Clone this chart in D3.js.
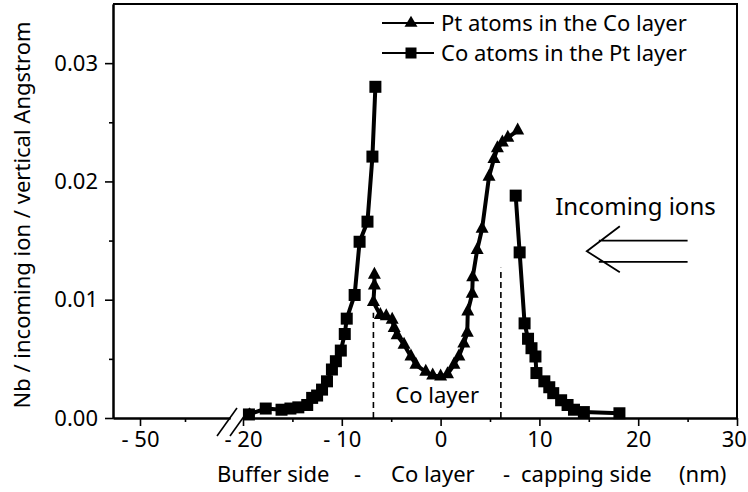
<!DOCTYPE html>
<html><head><meta charset="utf-8">
<script src="https://cdn.jsdelivr.net/npm/d3@7"></script>
<style>
body{margin:0;background:#fff}
svg{display:block}
text{font-family:"Noto Sans",sans-serif;fill:#000}
</style>
</head><body>
<svg id="chart" width="748" height="492"></svg>
<script>
// ---- data ----
const ptInCoX = [-6.7, -6.7, -6.8, -6.1, -5.5, -4.9, -4.7, -4.4, -3.7, -3.0, -2.5, -1.5, -0.8, 0.0, 0.7, 1.35, 1.85, 2.35, 2.7, 2.75, 3.2, 3.25, 3.7, 4.2, 4.9, 5.4, 5.75, 6.25, 6.8, 7.8];
const ptInCoY = [0.0121, 0.0112, 0.0098, 0.0087, 0.0086, 0.0083, 0.0076, 0.0070, 0.0062, 0.0052, 0.0045, 0.0039, 0.0036, 0.0035, 0.0037, 0.0045, 0.0052, 0.0063, 0.0072, 0.0090, 0.0105, 0.0119, 0.0142, 0.0160, 0.0204, 0.0219, 0.0228, 0.0233, 0.0237, 0.0243];

const coInPtBufferX = [-19.4, -17.7, -16.1, -15.2, -14.4, -13.5, -13.0, -12.5, -12.0, -11.5, -11.0, -10.6, -10.1, -9.7, -9.5, -8.7, -8.2, -7.4, -6.9, -6.6];
const coInPtBufferY = [0.0003, 0.0008, 0.0007, 0.0008, 0.0009, 0.0011, 0.0017, 0.0019, 0.0024, 0.0031, 0.0041, 0.0048, 0.0057, 0.0071, 0.0084, 0.0104, 0.0149, 0.0166, 0.0221, 0.0280];

const coInPtCappingX = [7.6, 8.0, 8.5, 8.85, 9.2, 9.6, 9.7, 10.5, 11.0, 11.4, 12.2, 12.85, 13.5, 14.5, 18.1];
const coInPtCappingY = [0.0188, 0.0140, 0.0080, 0.0067, 0.0059, 0.0052, 0.0038, 0.0031, 0.0026, 0.0021, 0.0015, 0.0011, 0.0007, 0.0005, 0.0004];

const leftMajorTicks = [-50];
const leftMinorTicks = [-45];
const mainMajorTicks = [-20, -10, 0, 10, 20, 30];
const mainMinorTicks = [-15, -5, 5, 15, 25];
const xTickLabels = {"-50": "- 50", "-20": "- 20", "-10": "- 10", "0": "0", "10": "10", "20": "20", "30": "30"};
const yMajorTicks = [0, 0.01, 0.02, 0.03];
const yMinorTicks = [0.005, 0.015, 0.025];

const coLayerEdges = [-6.8, 6.1];
const coLayerEdgeTops = [0.0089, 0.0127];

const legendLabels = ["Pt atoms in the Co layer", "Co atoms in the Pt layer"];
const xTitleParts = ["Buffer side", "-", "Co layer", "-", "capping side", "(nm)"];
const yTitle = "Nb / incoming ion / vertical Angstrom";

// ---- layout ----
const svg = d3.select("#chart");
const FS = 22;
const pLeft = 113, pRight = 737, pTop = 4, pBottom = 418;
const xL = d3.scaleLinear().domain([-53, -40]).range([pLeft, 230]);
const xR = d3.scaleLinear().domain([-20, 30]).range([243, pRight]);
const y = d3.scaleLinear().domain([0, 0.035]).range([pBottom, pTop]);

function styleAxis(g, w) {
  g.select(".domain").attr("stroke", "#000").attr("stroke-width", w);
  g.selectAll(".tick line").attr("stroke", "#000").attr("stroke-width", 1.6);
  g.selectAll(".tick text").style("font-size", FS + "px").style("font-family", '"Noto Sans", sans-serif');
}

// y axis
const gy = svg.append("g").attr("transform", `translate(${pLeft},0)`)
  .call(d3.axisLeft(y).tickValues(yMajorTicks).tickSize(8).tickPadding(7).tickSizeOuter(0).tickFormat(d3.format(".2f")));
styleAxis(gy, 2);
const gy2 = svg.append("g").attr("transform", `translate(${pLeft},0)`)
  .call(d3.axisLeft(y).tickValues(yMinorTicks).tickSize(4).tickSizeOuter(0).tickFormat(""));
styleAxis(gy2, 2);

// x axis, left segment
const gxL = svg.append("g").attr("transform", `translate(0,${pBottom})`)
  .call(d3.axisBottom(xL).tickValues(leftMajorTicks).tickSize(8).tickPadding(5).tickSizeOuter(0).tickFormat(d => xTickLabels[d]));
styleAxis(gxL, 2);
svg.append("g").attr("transform", `translate(0,${pBottom})`)
  .call(d3.axisBottom(xL).tickValues(leftMinorTicks).tickSize(4).tickSizeOuter(0).tickFormat(""))
  .call(g => styleAxis(g, 2));

// x axis, main segment
const gxR = svg.append("g").attr("transform", `translate(0,${pBottom})`)
  .call(d3.axisBottom(xR).tickValues(mainMajorTicks).tickSize(8).tickPadding(5).tickSizeOuter(0).tickFormat(d => xTickLabels[d]));
styleAxis(gxR, 2);
gxR.selectAll(".tick text").filter(d => d === 30).attr("dx", "-0.15em");
svg.append("g").attr("transform", `translate(0,${pBottom})`)
  .call(d3.axisBottom(xR).tickValues(mainMinorTicks).tickSize(4).tickSizeOuter(0).tickFormat(""))
  .call(g => styleAxis(g, 2));

// frame (top and right)
svg.append("path")
  .attr("d", `M${pLeft},${pTop}H${pRight}V${pBottom}`)
  .attr("fill", "none").attr("stroke", "#000").attr("stroke-width", 2);

// break marks
[xL.range()[1], xR.range()[0]].forEach(px => {
  svg.append("line")
    .attr("x1", px - 13).attr("y1", pBottom + 18)
    .attr("x2", px + 7).attr("y2", pBottom - 10)
    .attr("stroke", "#000").attr("stroke-width", 1.6);
});

// dashed Co layer edges
svg.selectAll(".edge").data(coLayerEdges).join("line")
  .attr("x1", d => xR(d)).attr("x2", d => xR(d))
  .attr("y1", y(0)).attr("y2", (d, i) => y(coLayerEdgeTops[i]))
  .attr("stroke", "#000").attr("stroke-width", 1.6).attr("stroke-dasharray", "6,4");

svg.append("text").attr("x", xR(-0.35)).attr("y", y(0.00125))
  .attr("text-anchor", "middle").style("font-size", FS + "px").text("Co layer");

// series
const line = d3.line().x(d => xR(d[0])).y(d => y(d[1]));
const zip = (xs, ys) => xs.map((v, i) => [v, ys[i]]);
const ptData = zip(ptInCoX, ptInCoY);
const bufData = zip(coInPtBufferX, coInPtBufferY);
const capData = zip(coInPtCappingX, coInPtCappingY);

[ptData, bufData, capData].forEach(dat => {
  svg.append("path").datum(dat).attr("d", line)
    .attr("fill", "none").attr("stroke", "#000").attr("stroke-width", 4).attr("stroke-linejoin", "round");
});

const triPath = (w, h) => `M0,${-h * 2 / 3}L${w / 2},${h / 3}L${-w / 2},${h / 3}Z`;
svg.selectAll(".tri").data(ptData).join("path")
  .attr("d", triPath(13, 12))
  .attr("transform", d => `translate(${xR(d[0])},${y(d[1])})`)
  .attr("fill", "#000");
const sq = 12;
svg.selectAll(".sq").data(bufData.concat(capData)).join("rect")
  .attr("x", d => xR(d[0]) - sq / 2).attr("y", d => y(d[1]) - sq / 2)
  .attr("width", sq).attr("height", sq).attr("fill", "#000");

// legend
const lg = svg.append("g");
legendLabels.forEach((lab, i) => {
  const cy = 23 + i * 30;
  lg.append("line").attr("x1", 382).attr("x2", 434).attr("y1", cy).attr("y2", cy)
    .attr("stroke", "#000").attr("stroke-width", 2);
  if (i === 0) lg.append("path").attr("d", triPath(13, 11)).attr("transform", `translate(411,${cy})`).attr("fill", "#000");
  else lg.append("rect").attr("x", 411 - 5.5).attr("y", cy - 5.5).attr("width", 11).attr("height", 11).attr("fill", "#000");
  lg.append("text").attr("x", 441).attr("y", cy + 8).style("font-size", FS + "px").text(lab);
});

// incoming ions annotation
svg.append("text").attr("x", xR(11.6)).attr("y", y(0.01716)).style("font-size", "24px").text("Incoming ions");
const ax0 = xR(14.8), ax1 = xR(25), yA = y(0.0150), yB = y(0.0132), yM = y(0.0141);
svg.append("path")
  .attr("d", `M${ax0 + 33},${yM - 25}L${ax0},${yM}L${ax0 + 33},${yM + 21}M${ax0 + 12},${yA}H${ax1}M${ax0 + 12},${yB}H${ax1}`)
  .attr("fill", "none").attr("stroke", "#000").attr("stroke-width", 1.8);

// axis titles
const xTitlePos = [217, 354, 391, 503, 521, 679];
const xt = svg.append("text").attr("y", 482).style("font-size", FS + "px");
xTitleParts.forEach((p, i) => xt.append("tspan").attr("x", xTitlePos[i]).text(p));
svg.append("text").attr("transform", `translate(30,${(pTop + pBottom) / 2 + 4}) rotate(-90)`)
  .attr("text-anchor", "middle").style("font-size", FS + "px").text(yTitle);
</script>
</body></html>
